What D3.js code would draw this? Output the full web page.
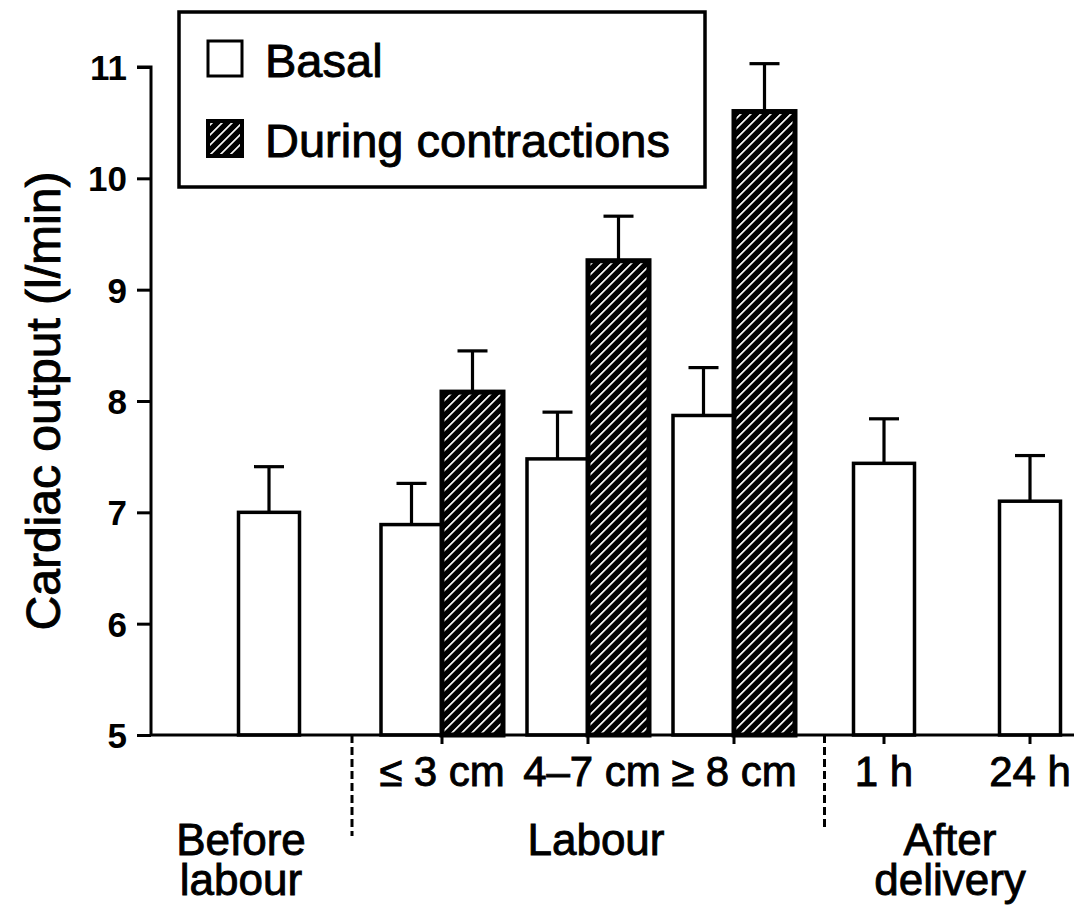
<!DOCTYPE html>
<html>
<head>
<meta charset="utf-8">
<script src="https://cdn.jsdelivr.net/npm/d3@7"></script>
<style>
  html, body { margin: 0; padding: 0; background: #fff; }
  svg { display: block; }
  text { font-family: "Liberation Sans", Arial, Helvetica, sans-serif; fill: #000; }
</style>
</head>
<body>
<svg id="chart" width="1074" height="906"></svg>
<script>
// ---- data ----
const categories   = ["Before labour", "≤ 3 cm", "4–7 cm", "≥ 8 cm", "1 h", "24 h"];
const sectionOf    = ["before", "labour", "labour", "labour", "after", "after"];
const sections     = ["before", "labour", "after"];
const sectionNames = [["Before", "labour"], ["Labour"], ["After", "delivery"]];
const basal        = [7.0, 6.89, 7.48, 7.87, 7.44, 7.10];
const basalSD      = [0.41, 0.37, 0.42, 0.43, 0.40, 0.41];
const contraction  = [null, 8.08, 9.26, 10.60, null, null];
const contractionSD= [null, 0.37, 0.40, 0.43, null, null];
const yTicks       = [5, 6, 7, 8, 9, 10, 11];
const yLabel       = "Cardiac output (l/min)";
const legendItems  = ["Basal", "During contractions"];

// ---- layout ----
const W = 1074, H = 906;
const axisX = 151, axisY = 735, topY = 67;
const firstCenter = 269, groupStep = 146, sectionGap = {before: 0, labour: 27, after: 31};
const barW = 61;
const textStroke = 0.9;

const svg = d3.select("#chart");

const y = d3.scaleLinear().domain([5, 11]).range([axisY, topY]);

// group centres: evenly stepped slots, with extra room where a new section starts
const slot = d3.scaleLinear().domain([0, 1]).range([firstCenter, firstCenter + groupStep]);
const centers = categories.map((c, i) => slot(i) + sectionGap[sectionOf[i]]);
const xCenter = d3.scaleOrdinal().domain(categories).range(centers);

// hatch pattern for contraction bars
const defs = svg.append("defs");
const pat = defs.append("pattern")
  .attr("id", "hatch")
  .attr("patternUnits", "userSpaceOnUse")
  .attr("width", 7.07).attr("height", 7.07)
  .attr("patternTransform", "rotate(-45)");
pat.append("rect").attr("width", 7.07).attr("height", 7.07).attr("fill", "#000");
pat.append("line").attr("x1", 0).attr("x2", 7.07).attr("y1", 3.5).attr("y2", 3.5)
  .attr("stroke", "#fff").attr("stroke-width", 1.7);

// ---- y axis ----
const yAxis = d3.axisLeft(y).tickValues(yTicks).tickSize(14).tickPadding(10).tickFormat(d3.format("d"));
const gy = svg.append("g").attr("transform", `translate(${axisX},0)`).call(yAxis);
gy.select(".domain").attr("stroke", "#000").attr("stroke-width", 3).attr("d", `M-14,${topY}H0V${axisY}`);
gy.selectAll(".tick line").attr("stroke", "#000").attr("stroke-width", 3);
gy.selectAll(".tick text")
  .style("font-family", '"Liberation Sans", Arial, sans-serif')
  .style("font-size", "35px").style("font-weight", "bold")
  .attr("dy", "0.36em");

svg.append("text")
  .attr("transform", `translate(60,${(y(5) + y(11)) / 2}) rotate(-90)`)
  .attr("text-anchor", "middle")
  .style("font-size", "48px")
  .attr("stroke", "#000").attr("stroke-width", textStroke)
  .text(yLabel);

// ---- bars ----
const gBars = svg.append("g");
categories.forEach((c, i) => {
  const cx = xCenter(c);
  const paired = contraction[i] != null;
  const bx = paired ? cx - barW : cx - barW / 2;
  gBars.append("rect")
    .attr("x", bx).attr("y", y(basal[i]))
    .attr("width", barW).attr("height", y(5) - y(basal[i]))
    .attr("fill", "#fff").attr("stroke", "#000").attr("stroke-width", 3.5);
  if (paired) {
    gBars.append("rect")
      .attr("x", cx).attr("y", y(contraction[i]))
      .attr("width", barW).attr("height", y(5) - y(contraction[i]))
      .attr("fill", "url(#hatch)").attr("stroke", "#000").attr("stroke-width", 5);
  }
});

// ---- error bars (upper SD only) ----
const gErr = svg.append("g").attr("stroke", "#000").attr("stroke-width", 3.2);
function errBar(xm, v, sd) {
  gErr.append("line").attr("x1", xm).attr("x2", xm).attr("y1", y(v)).attr("y2", y(v + sd));
  gErr.append("line").attr("x1", xm - 15).attr("x2", xm + 15).attr("y1", y(v + sd)).attr("y2", y(v + sd));
}
categories.forEach((c, i) => {
  const cx = xCenter(c);
  const paired = contraction[i] != null;
  errBar(paired ? cx - barW / 2 : cx, basal[i], basalSD[i]);
  if (paired) errBar(cx + barW / 2, contraction[i], contractionSD[i]);
});

// ---- x axis ----
svg.append("line").attr("x1", axisX).attr("x2", W).attr("y1", axisY).attr("y2", axisY)
  .attr("stroke", "#000").attr("stroke-width", 3);
const tickCats = categories.filter((c, i) => i > 0);
svg.append("g").selectAll("line").data(tickCats).join("line")
  .attr("x1", d => xCenter(d)).attr("x2", d => xCenter(d))
  .attr("y1", axisY).attr("y2", axisY + 9)
  .attr("stroke", "#000").attr("stroke-width", 3);

svg.append("g").selectAll("text").data(tickCats).join("text")
  .attr("x", d => xCenter(d) + (d === "4–7 cm" ? 4 : 0)).attr("y", 786)
  .attr("text-anchor", "middle")
  .style("font-size", "42px")
  .attr("stroke", "#000").attr("stroke-width", textStroke)
  .text(d => d);

// dashed section dividers, set just left of the first bar of each new section
const dividers = [];
for (let i = 1; i < categories.length; i++) {
  if (sectionOf[i] !== sectionOf[i - 1]) {
    const right = xCenter(categories[i]) - (contraction[i] != null ? barW : barW / 2);
    dividers.push({x: right - 29, bottom: i === 1 ? 836 : 828});
  }
}
svg.append("g").selectAll("line").data(dividers).join("line")
  .attr("x1", d => d.x).attr("x2", d => d.x)
  .attr("y1", axisY).attr("y2", d => d.bottom)
  .attr("stroke", "#000").attr("stroke-width", 3).attr("stroke-dasharray", "8,4");

// section captions, one text per line
const sectionCenter = {before: 241, labour: 596, after: 950};
sections.forEach((s, k) => {
  sectionNames[k].forEach((line, j) => {
    svg.append("text")
      .attr("x", sectionCenter[s]).attr("y", 855 + j * 40)
      .attr("text-anchor", "middle")
      .style("font-size", "44px")
      .attr("stroke", "#000").attr("stroke-width", textStroke)
      .text(line);
  });
});

// ---- legend ----
const lg = svg.append("g");
lg.append("rect").attr("x", 179).attr("y", 12).attr("width", 526).attr("height", 175)
  .attr("fill", "#fff").attr("stroke", "#000").attr("stroke-width", 3.5);
const legendFill = ["#fff", "url(#hatch)"];
const legendStroke = [3, 4];
legendItems.forEach((name, k) => {
  const yy = [41, 121][k];
  lg.append("rect").attr("x", 208).attr("y", yy).attr("width", 34).attr("height", 35)
    .attr("fill", legendFill[k]).attr("stroke", "#000").attr("stroke-width", legendStroke[k]);
  lg.append("text").attr("x", 265).attr("y", yy + 36)
    .style("font-size", "47px")
    .attr("stroke", "#000").attr("stroke-width", textStroke)
    .text(name);
});
</script>
</body>
</html>
